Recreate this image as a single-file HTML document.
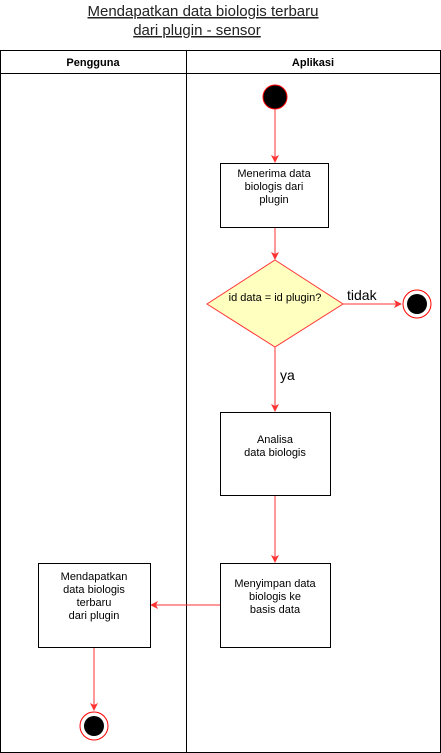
<html><body style="margin:0;background:#fff;width:441px;height:753px;overflow:hidden">
<svg width="441" height="753" xmlns="http://www.w3.org/2000/svg" style="font-family:'Liberation Sans',sans-serif">
<defs><marker id="a" markerWidth="8" markerHeight="8" refX="7" refY="4" orient="auto" markerUnits="userSpaceOnUse"><path d="M0,0 L8,4 L0,8 L2,4z" fill="#ff3333"/></marker></defs>
<text x="203" y="16" font-size="15" text-anchor="middle" fill="#222" text-decoration="underline">Mendapatkan data biologis terbaru</text>
<text x="197" y="35" font-size="15" text-anchor="middle" fill="#222" text-decoration="underline">dari plugin - sensor</text>
<rect x="0.5" y="50.5" width="440" height="702" fill="none" stroke="#000"/>
<line x1="0" y1="73.5" x2="441" y2="73.5" stroke="#000"/>
<line x1="186.5" y1="50" x2="186.5" y2="753" stroke="#000"/>
<text x="93" y="66" font-size="11" font-weight="bold" text-anchor="middle">Pengguna</text>
<text x="313" y="66" font-size="11" font-weight="bold" text-anchor="middle">Aplikasi</text>
<circle cx="275" cy="97" r="12" fill="#000" stroke="#ff0000"/>
<g stroke="#ff3333" fill="none">
<line x1="275" y1="109" x2="275" y2="162" marker-end="url(#a)"/>
<line x1="275" y1="227" x2="275" y2="259" marker-end="url(#a)"/>
<line x1="343" y1="304" x2="401" y2="304" marker-end="url(#a)"/>
<line x1="275" y1="347" x2="275" y2="411" marker-end="url(#a)"/>
<line x1="275" y1="495" x2="275" y2="562" marker-end="url(#a)"/>
<line x1="220" y1="605" x2="151" y2="605" marker-end="url(#a)"/>
<line x1="94" y1="647" x2="94" y2="710" marker-end="url(#a)"/>
</g>
<rect x="220.5" y="163.5" width="108" height="64" fill="#fff" stroke="#000"/>
<text font-size="11" text-anchor="middle" fill="#000"><tspan x="274" y="177">Menerima data</tspan><tspan x="274" y="190">biologis dari</tspan><tspan x="274" y="203">plugin</tspan></text>
<polygon points="275,260 343,304 275,347 207,304" fill="#ffffc0" stroke="#ff3333"/>
<text x="275" y="301" font-size="11" text-anchor="middle">id data = id plugin?</text>
<text x="347" y="300" font-size="14">tidak</text>
<circle cx="417" cy="304" r="14" fill="#fff" stroke="#ff0000"/>
<circle cx="417" cy="304" r="10" fill="#000"/>
<text x="280" y="380" font-size="14">ya</text>
<rect x="220.5" y="412.5" width="110" height="83" fill="#fff" stroke="#000"/>
<text font-size="11" text-anchor="middle"><tspan x="275" y="443">Analisa</tspan><tspan x="275" y="456">data biologis</tspan></text>
<rect x="220.5" y="563.5" width="110" height="84" fill="#fff" stroke="#000"/>
<text font-size="11" text-anchor="middle"><tspan x="275" y="587">Menyimpan data</tspan><tspan x="275" y="600">biologis ke</tspan><tspan x="275" y="613">basis data</tspan></text>
<rect x="38.5" y="563.5" width="112" height="84" fill="#fff" stroke="#000"/>
<text font-size="11" text-anchor="middle"><tspan x="94" y="580">Mendapatkan</tspan><tspan x="94" y="593">data biologis</tspan><tspan x="94" y="606">terbaru</tspan><tspan x="94" y="619">dari plugin</tspan></text>
<circle cx="94" cy="726" r="14" fill="#fff" stroke="#ff0000"/>
<circle cx="94" cy="726" r="10" fill="#000"/>
</svg></body></html>
